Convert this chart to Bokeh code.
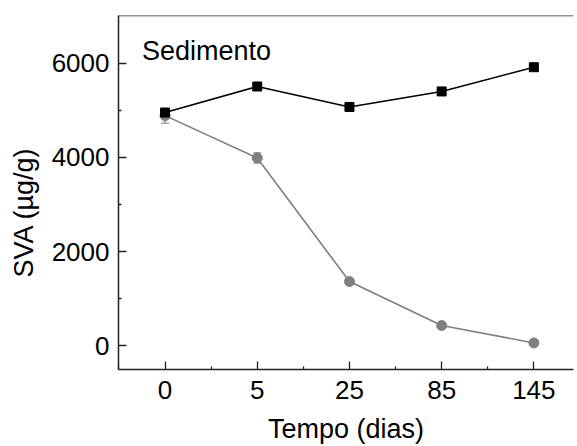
from bokeh.plotting import figure
from bokeh.models import FixedTicker, Range1d, Whisker, ColumnDataSource, Label, Span, Title
from bokeh.embed import file_html
from bokeh.resources import INLINE

days = ["0", "5", "25", "85", "145"]
sva_black = [4955, 5510, 5075, 5405, 5920]
err_black = [40, 30, 30, 30, 30]
sva_gray = [4890, 3990, 1360, 425, 55]
err_gray = [160, 110, 30, 30, 20]

idx = list(range(len(days)))
FONT = "Liberation Sans"
AX = "#222222"
Y_MIN, Y_MAX = -510, 7020

p = figure(width=577, height=446, output_backend="svg", toolbar_location=None,
           x_range=Range1d(-0.505, 4.43), y_range=Range1d(Y_MIN, Y_MAX),
           min_border_left=118, min_border_right=4, min_border_top=15, min_border_bottom=77)
p.grid.visible = False
p.outline_line_color = None
p.add_layout(Span(location=Y_MAX, dimension="width", line_color=AX, line_width=1.5))

src_b = ColumnDataSource(dict(x=idx, y=sva_black,
                              lo=[v - e for v, e in zip(sva_black, err_black)],
                              hi=[v + e for v, e in zip(sva_black, err_black)]))
src_g = ColumnDataSource(dict(x=idx, y=sva_gray,
                              lo=[v - e for v, e in zip(sva_gray, err_gray)],
                              hi=[v + e for v, e in zip(sva_gray, err_gray)]))

p.line("x", "y", source=src_g, line_color="#7f7f7f", line_width=1.6)
wg = Whisker(source=src_g, base="x", lower="lo", upper="hi", line_color="#7f7f7f", line_width=1.2)
wg.upper_head.line_color = "#7f7f7f"; wg.lower_head.line_color = "#7f7f7f"
wg.upper_head.size = 8; wg.lower_head.size = 8
p.add_layout(wg)
p.scatter("x", "y", source=src_g, marker="circle", size=10, fill_color="#7f7f7f", line_color="#7f7f7f")

p.line("x", "y", source=src_b, line_color="black", line_width=1.6)
wb = Whisker(source=src_b, base="x", lower="lo", upper="hi", line_color="black", line_width=1.2)
wb.upper_head.size = 8; wb.lower_head.size = 8
p.add_layout(wb)
p.scatter("x", "y", source=src_b, marker="square", size=9, fill_color="black", line_color="black")

xa = p.xaxis[0]
ya = p.yaxis[0]
xa.ticker = FixedTicker(ticks=idx, minor_ticks=[i + 0.5 for i in range(-1, len(days) - 1)])
xa.major_label_overrides = {i: d for i, d in enumerate(days)}
ya.ticker = FixedTicker(ticks=[0, 2000, 4000, 6000], minor_ticks=[1000, 3000, 5000])

for ax in (xa, ya):
    ax.axis_line_color = AX
    ax.axis_line_width = 1.5
    ax.major_tick_line_color = AX
    ax.minor_tick_line_color = AX
    ax.major_tick_line_width = 1.3
    ax.minor_tick_line_width = 1.3
    ax.major_tick_out = 0
    ax.major_tick_in = 8
    ax.minor_tick_out = 0
    ax.minor_tick_in = 3
    ax.major_label_text_font = FONT
    ax.major_label_text_font_size = "26px"
    ax.major_label_text_color = "black"
    ax.axis_label_text_font = FONT
    ax.axis_label_text_font_size = "27px"
    ax.axis_label_text_font_style = "normal"
    ax.axis_label_text_color = "black"

xa.axis_label = "Tempo (dias)"
xa.major_label_standoff = 11
xa.axis_label_standoff = 12
ya.major_label_standoff = 9

p.add_layout(Title(text="SVA (µg/g)", align="left", offset=92, vertical_align="top",
                   standoff=16, text_font=FONT, text_font_size="27px",
                   text_font_style="normal", text_color="black"), "left")

p.add_layout(Label(x=-0.25, y=6256, text="Sedimento", text_font=FONT, text_font_size="27px",
                   text_color="black", text_baseline="alphabetic"))

open("out.html", "w").write(file_html(p, INLINE))
